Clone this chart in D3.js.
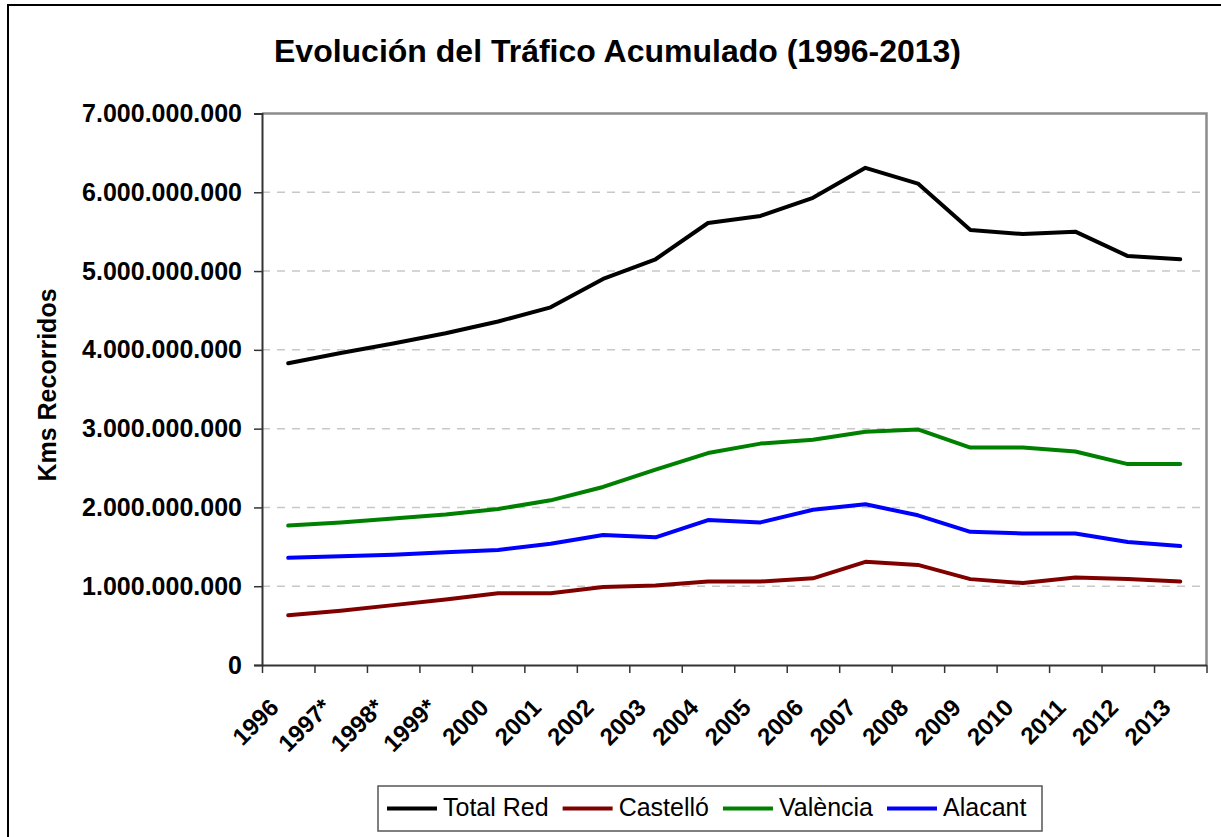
<!DOCTYPE html>
<html>
<head>
<meta charset="utf-8">
<script src="https://cdn.jsdelivr.net/npm/d3@7"></script>
<style>
  body { margin: 0; background: #fff; }
  text { font-family: "Liberation Sans", Arial, sans-serif; }
</style>
</head>
<body>
<script>
const width = 1221;
const height = 837;

// años (el asterisco marca datos estimados)
const years = ['1996', '1997*', '1998*', '1999*', '2000', '2001', '2002', '2003', '2004',
    '2005', '2006', '2007', '2008', '2009', '2010', '2011', '2012', '2013'];

// kms recorridos, en miles de millones
const totalRed = [3.83, 3.96, 4.08, 4.21, 4.36, 4.54, 4.90, 5.15, 5.61, 5.70, 5.93, 6.31, 6.11, 5.52, 5.47, 5.50, 5.19, 5.15];
const castello = [0.63, 0.69, 0.76, 0.83, 0.91, 0.91, 0.99, 1.01, 1.06, 1.06, 1.10, 1.31, 1.27, 1.09, 1.04, 1.11, 1.09, 1.06];
const valencia = [1.77, 1.81, 1.86, 1.91, 1.98, 2.09, 2.26, 2.48, 2.69, 2.81, 2.86, 2.96, 2.99, 2.76, 2.76, 2.71, 2.55, 2.55];
const alacant = [1.36, 1.38, 1.40, 1.43, 1.46, 1.54, 1.65, 1.62, 1.84, 1.81, 1.97, 2.04, 1.90, 1.69, 1.67, 1.67, 1.56, 1.51];

const yTicks = [0, 1e9, 2e9, 3e9, 4e9, 5e9, 6e9, 7e9];

const series = [
    {name: 'Total Red', color: '#000000', values: totalRed},
    {name: 'Castelló', color: '#800000', values: castello},
    {name: 'València', color: '#008000', values: valencia},
    {name: 'Alacant', color: '#0000ff', values: alacant}
];

const plot = {left: 262, top: 113.5, right: 1206.5, bottom: 665};

const svg = d3.select('body').append('svg')
    .attr('width', width)
    .attr('height', height);

// marco exterior
svg.append('rect')
    .attr('x', 8).attr('y', 5)
    .attr('width', 1240).attr('height', 860)
    .attr('fill', 'none')
    .attr('stroke', '#000')
    .attr('stroke-width', 2);

const x = d3.scaleBand().domain(years).range([plot.left, plot.right]).padding(0);
const xIdx = d3.scaleLinear().domain([0, years.length]).range([plot.left, plot.right]);
const y = d3.scaleLinear().domain([0, 7e9]).range([plot.bottom, plot.top]);

const locale = d3.formatLocale({decimal: ',', thousands: '.', grouping: [3], currency: ['', '']});
const fmt = locale.format(',d');

// rejilla
svg.append('g')
    .selectAll('line')
    .data(yTicks.filter(d => d > 0 && d < 7e9))
    .enter().append('line')
    .attr('x1', plot.left).attr('x2', plot.right)
    .attr('y1', d => y(d)).attr('y2', d => y(d))
    .attr('stroke', '#c8c8c8')
    .attr('stroke-width', 1.5)
    .attr('stroke-dasharray', '8,7');

// borde del área de trazado
svg.append('path')
    .attr('d', `M${plot.left},${plot.top}H${plot.right}V${plot.bottom}`)
    .attr('fill', 'none')
    .attr('stroke', '#8c8c8c')
    .attr('stroke-width', 2.5);

// eje y
const yAxis = svg.append('g')
    .attr('transform', `translate(${plot.left},0)`)
    .call(d3.axisLeft(y).tickValues(yTicks).tickFormat(fmt).tickSize(8).tickPadding(12));
yAxis.select('.domain').attr('stroke', '#333').attr('stroke-width', 2);
yAxis.selectAll('.tick line').attr('stroke', '#333').attr('stroke-width', 1.5);
yAxis.selectAll('.tick text')
    .attr('font-family', '"Liberation Sans", Arial, sans-serif')
    .attr('font-size', 25)
    .attr('font-weight', 'bold')
    .attr('fill', '#000');

// eje x
const xAxis = svg.append('g')
    .attr('transform', `translate(0,${plot.bottom})`)
    .call(d3.axisBottom(xIdx).tickValues(d3.range(years.length + 1)).tickFormat('').tickSizeInner(8).tickSizeOuter(0));
xAxis.select('.domain').attr('stroke', '#333').attr('stroke-width', 2);
xAxis.selectAll('.tick line').attr('stroke', '#333').attr('stroke-width', 1.5);

svg.append('g')
    .selectAll('text')
    .data(years)
    .enter().append('text')
    .attr('transform', d => `translate(${x(d) + x.bandwidth() / 2 - 8},${plot.bottom + 44}) rotate(-45)`)
    .attr('text-anchor', 'end')
    .attr('font-size', 24)
    .attr('font-weight', 'bold')
    .text(d => d);

// líneas
const line = d3.line()
    .x((d, i) => x(years[i]) + x.bandwidth() / 2)
    .y(d => y(d * 1e9));

svg.append('g')
    .selectAll('path')
    .data(series)
    .enter().append('path')
    .attr('d', d => line(d.values))
    .attr('fill', 'none')
    .attr('stroke', d => d.color)
    .attr('stroke-width', 4)
    .attr('stroke-linejoin', 'round')
    .attr('stroke-linecap', 'round');

// título
svg.append('text')
    .attr('x', 617.5).attr('y', 62)
    .attr('text-anchor', 'middle')
    .attr('font-size', 32)
    .attr('font-weight', 'bold')
    .text('Evolución del Tráfico Acumulado (1996-2013)');

// título eje y
svg.append('text')
    .attr('transform', 'translate(56,385) rotate(-90)')
    .attr('text-anchor', 'middle')
    .attr('font-size', 25)
    .attr('font-weight', 'bold')
    .text('Kms Recorridos');

// leyenda
const legend = svg.append('g');
legend.append('rect')
    .attr('x', 378).attr('y', 786)
    .attr('width', 664).attr('height', 45)
    .attr('fill', '#fff')
    .attr('stroke', '#555')
    .attr('stroke-width', 1.5);

let lx = 387;
series.forEach(s => {
    legend.append('line')
        .attr('x1', lx).attr('x2', lx + 50)
        .attr('y1', 808.5).attr('y2', 808.5)
        .attr('stroke', s.color)
        .attr('stroke-width', 4);
    const t = legend.append('text')
        .attr('x', lx + 56).attr('y', 816)
        .attr('font-size', 25)
        .text(s.name);
    lx += 56 + t.node().getComputedTextLength() + 14;
});
</script>
</body>
</html>
